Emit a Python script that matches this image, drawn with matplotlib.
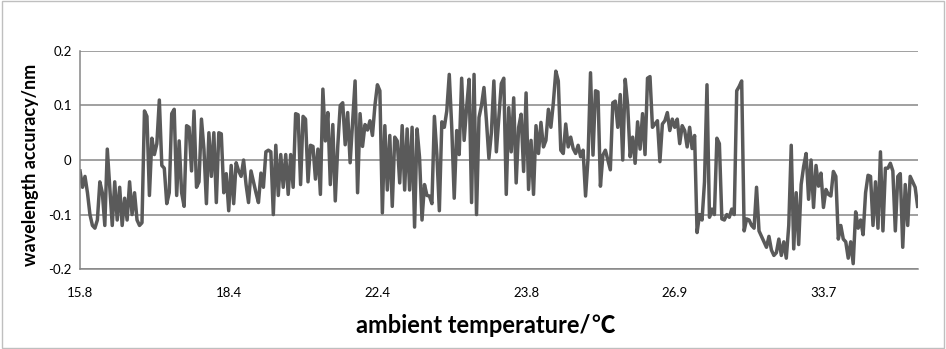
import matplotlib
matplotlib.use('Agg')
import matplotlib.pyplot as plt
from matplotlib.patches import Rectangle
import numpy as np

# valores, por tramos de izquierda a derecha
seg1 = [-0.02, -0.05, -0.03, -0.06, -0.1, -0.12, -0.125, -0.11, -0.04, -0.06, -0.12, 0.02,
        -0.05, -0.12, -0.04, -0.11, -0.05, -0.12, -0.07, -0.11, -0.04, -0.1, -0.06, -0.11, -0.12]
seg2 = [-0.115, 0.09, 0.08, -0.065, 0.04, 0.01, 0.03, 0.11, -0.01, -0.015, -0.08, -0.06, 0.085,
        0.093, -0.065, 0.035, -0.06, -0.085, 0.063, 0.06, -0.02, 0.09, -0.05, -0.04, 0.075, 0.02,
        -0.08, 0.05, -0.03]
seg3 = [0.05, -0.078, 0.05, 0.048, -0.06, -0.025, -0.093, -0.01, -0.08, -0.005, -0.02, -0.03, 0.0,
        -0.045, -0.078, -0.02, -0.04, -0.06, -0.078, -0.024, -0.05, 0.015, 0.018, 0.015, -0.1,
        0.027, -0.065, 0.01, -0.05]
seg4 = [0.01, -0.063, 0.01, -0.05, 0.085, 0.083, -0.045, 0.08, 0.075, -0.04, 0.027, 0.025, -0.035,
        0.02, -0.063, 0.13, 0.035, 0.087, -0.045, 0.065, -0.075, 0.025, 0.1, 0.105, 0.028, 0.087,
        -0.005, 0.07, 0.145]
seg5 = [-0.06, 0.085, 0.025, 0.065, 0.055, 0.072, 0.045, 0.1, 0.138, 0.127, -0.097, 0.063, -0.055,
        0.045, -0.085, 0.042, 0.035, -0.042, 0.063, -0.055, 0.057, -0.055, 0.06, -0.123, 0.057,
        0.005, -0.11, -0.045, -0.065]
seg6 = [-0.066, -0.08, 0.08, 0.01, -0.093, 0.07, 0.06, 0.09, 0.157, 0.06, -0.07, 0.054, 0.01, 0.15,
        0.036, 0.096, 0.148, -0.078, 0.157, -0.1, 0.078, 0.1, 0.133, 0.072, 0.003, 0.05, 0.145,
        0.015, 0.078]
seg7 = [0.14, 0.15, -0.063, 0.096, 0.015, 0.114, -0.042, 0.06, 0.084, -0.021, 0.123, -0.054,
        0.036, -0.063, 0.063, 0.012, 0.069, 0.024, 0.036, 0.093, 0.06, 0.105]
seg8 = [0.163, 0.145, 0.018, 0.012, 0.066, 0.024, 0.042, 0.021, 0.012, 0.027, 0.006, 0.018,
        -0.066, 0.003, 0.16, 0.009, 0.127]
seg9 = [0.125, -0.048, 0.009, 0.018, 0.0, -0.018, 0.105, 0.108, 0.06, 0.12, 0.0, 0.148, 0.1, 0.006,
        0.042, -0.006, 0.07, 0.02, 0.085, 0.01, 0.15, 0.153, 0.06, 0.066, 0.072, -0.003, 0.066,
        0.072, 0.087, 0.054, 0.075, 0.06]
seg10 = [0.075, 0.03, 0.063, 0.054, 0.024, 0.06, 0.021, 0.045,
         -0.133, -0.1, -0.11, -0.04, 0.138, -0.105, -0.09, -0.1, 0.04, 0.03, -0.108, -0.11, -0.1,
         -0.105, -0.09, -0.1, 0.127, 0.135, 0.145, -0.13, -0.108, -0.11, -0.12, -0.125, -0.05,
         -0.13, -0.14, -0.15, -0.16, -0.14, -0.165, -0.175, -0.17, -0.145, -0.175, -0.15, -0.18,
         -0.12]
seg11 = [0.027, -0.163, -0.06, -0.155, -0.045, -0.012, 0.012, -0.072, 0.0, -0.087, -0.01, -0.048,
         -0.024, -0.087, -0.054, -0.063, -0.066, -0.021, -0.03, -0.145, -0.12]
seg12 = [-0.145, -0.15, -0.18, -0.15, -0.19, -0.095, -0.125, -0.11, -0.137, -0.06, -0.028, -0.03,
         -0.12, -0.04, -0.125, 0.015, -0.13, -0.015, -0.015, -0.006, -0.02, -0.13, -0.03, -0.025,
         -0.16, -0.045, -0.12, -0.03, -0.04, -0.05, -0.085]

accuracy = seg1 + seg2 + seg3 + seg4 + seg5 + seg6 + seg7 + seg8 + seg9 + seg10 + seg11 + seg12

# etiquetas del eje x (una cada 60 puntos)
tick_labels = ['15.8', '18.4', '22.4', '23.8', '26.9', '33.7']
tick_step = 60

fonts = ['Lato', 'Noto Sans CJK SC', 'DejaVu Sans']
plt.rcParams['font.family'] = fonts

fig = plt.figure(figsize=(9.46, 3.49), dpi=100)
ax = fig.add_axes([0.0846, 0.229, 0.970 - 0.0846, 0.854 - 0.229])

x = np.arange(len(accuracy))
ax.plot(x, accuracy, color='#5a5a5a', linewidth=2.5, solid_joinstyle='round')

ax.set_xlim(0, len(accuracy) - 1)
ax.set_ylim(-0.2, 0.2)
ax.set_yticks([-0.2, -0.1, 0, 0.1, 0.2])
ax.set_yticklabels(['-0.2', '-0.1', '0', '0.1', '0.2'])
ax.set_xticks(np.arange(len(tick_labels)) * tick_step)
ax.set_xticklabels(tick_labels)
ax.tick_params(length=0, labelsize=9.5, colors='black')
ax.tick_params(axis='x', pad=13)
ax.tick_params(axis='y', pad=6)

ax.grid(axis='y', color='#868686', linewidth=1.1)
ax.set_axisbelow(True)
for s in ['top', 'right']:
    ax.spines[s].set_visible(False)
ax.spines['left'].set_color('#868686')
ax.spines['bottom'].set_color('#868686')
ax.spines['left'].set_linewidth(1.1)
ax.spines['bottom'].set_linewidth(1.1)

# titulo del eje x: texto latino + simbolo ℃ en fuente CJK
xl = fig.text(0.500, 0.067, 'ambient temperature/', ha='center', va='center',
              fontsize=17, fontweight='bold', family=['Lato'])
fig.canvas.draw()
bb = xl.get_window_extent()
fig.text((bb.x1 + 1) / fig.bbox.width, 0.067, '℃', ha='left', va='center',
         fontsize=17, fontweight='bold', family=['Noto Sans CJK SC', 'DejaVu Sans'])

fig.text(0.032, 0.527, 'wavelength accuracy/nm', ha='center', va='center', rotation=90,
         fontsize=13, fontweight='bold', family=fonts)

# marco exterior
fig.patches.append(Rectangle((0.002, 0.004), 0.996, 0.992, transform=fig.transFigure,
                             fill=False, edgecolor='#bfbfbf', linewidth=1))

fig.savefig('out.png', dpi=100)
